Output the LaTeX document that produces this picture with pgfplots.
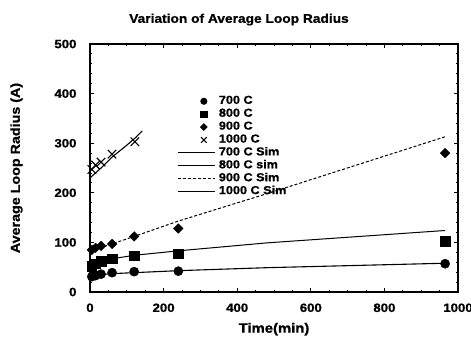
\documentclass[border=0pt]{standalone}
\usepackage{pgfplots}
\pgfplotsset{compat=1.18}
\usepackage{fontspec}
\setmainfont{Liberation Sans}
\newfontfamily\hv[FakeStretch=1.1, BoldFeatures={FakeBold=1}]{Liberation Sans}
\pgfplotsset{
  lline/.style={legend image code/.code={\draw[##1] (0pt,0pt) -- (37pt,0pt); \path (0pt,0pt) (40pt,0pt);}},
  mleg/.style={legend image code/.code={\draw[##1, mark size=#1] plot coordinates {(26pt,0pt)}; \path (0pt,0pt) (40pt,0pt);}},
}
\begin{document}
\begin{tikzpicture}[x=1pt,y=1pt]
\path[use as bounding box] (-90,-45) rectangle (381,292);
\begin{axis}[
  at={(0,0)}, anchor=south west,
  scale only axis, width=368pt, height=248pt,
  xmin=0, xmax=1000, ymin=0, ymax=500,
  xtick={0,200,...,1000}, ytick={0,100,...,500},
  minor x tick num=3, minor y tick num=4,
  tick align=inside, tick pos=both,
  major tick length=4pt, minor tick length=2pt,
  axis line style={line width=1.1pt},
  every tick/.style={black, line width=0.9pt},
  /pgf/number format/assume math mode=true,
  /pgf/number format/1000 sep={},
  tick label style={font=\fontsize{12}{13}\hv\bfseries},
  scaled ticks=false,
  xticklabel style={yshift=-8pt},
  yticklabel style={xshift=-10pt},
  title={Variation of Average Loop Radius},
  title style={font=\fontsize{12.5}{14}\hv\bfseries, xshift=-35pt, yshift=9pt},
  xlabel={Time(min)},
  xlabel style={font=\fontsize{13.5}{15}\hv\bfseries, yshift=-4pt},
  ylabel={Average Loop Radius (A)},
  ylabel style={font=\fontsize{13}{15}\hv\bfseries, yshift=25pt},
  legend style={draw=none, fill=none, at={(0.234,0.80)}, anchor=north west,
    font=\fontsize{11.5}{12.4}\hv\bfseries, row sep=0pt, inner sep=1pt,
    nodes={inner sep=0.5pt, text height=8.5pt, text depth=3.4pt}},
  legend cell align=left,
  lline,
]
\addplot[only marks, mark=*, mark size=4.6pt, black, mleg=3.3pt] coordinates {
 (5,31) (15,33) (30,36) (60,39) (120,41) (240,42) (965,57)};
\addlegendentry{700 C}
\addplot[only marks, mark=square*, mark size=4.8pt, black, mleg=3.3pt] coordinates {
 (5,52) (15,57) (30,62) (60,67) (120,73) (240,77) (965,103)};
\addlegendentry{800 C}
\addplot[only marks, mark=square*, mark size=3.4pt, black, mark options={rotate=45}, mleg=2.5pt] coordinates {
 (5,85) (15,89) (30,93) (60,97) (120,112) (240,128) (965,280)};
\addlegendentry{900 C}
\addplot[only marks, mark=x, mark size=6pt, black, line width=1.1pt, mleg=4pt] coordinates {
 (5,247) (15,256) (30,262) (60,278) (122,303)};
\addlegendentry{1000 C}
\addplot[black, line width=1.1pt] coordinates {
 (0,30) (30,35) (60,37) (120,39) (240,43) (480,49) (965,58)};
\addlegendentry{700 C Sim}
\addplot[black, line width=1pt] coordinates {
 (0,54) (30,62) (60,67) (120,74) (240,83) (480,99) (965,124)};
\addlegendentry{800 C sim}
\addplot[black, line width=1pt, densely dashed] coordinates {
 (0,82) (60,97) (120,112) (240,143) (480,198) (965,313)};
\addlegendentry{900 C Sim}
\addplot[black, line width=1.1pt] coordinates {
 (0,230) (30,250) (60,272) (100,296) (125,312) (142,325)};
\addlegendentry{1000 C Sim}
\end{axis}
\end{tikzpicture}
\end{document}
